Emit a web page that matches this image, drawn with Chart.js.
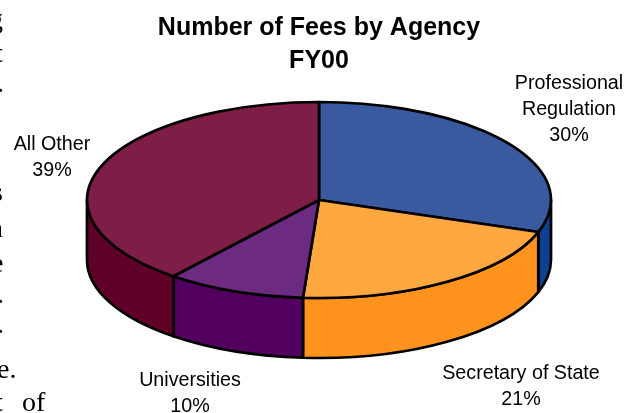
<!DOCTYPE html>
<html><head><meta charset="utf-8">
<style>html,body{margin:0;padding:0;background:#fff;overflow:hidden}canvas{display:block}</style>
<script src="https://cdn.jsdelivr.net/npm/chart.js@4"></script></head>
<body><div style="width:624px;height:413px;position:relative"><canvas id="c" width="624" height="413"></canvas></div>
<script>
const categories = [["Professional","Regulation"],["Secretary of State"],["Universities"],["All Other"]];
const values = [30.3, 20.8, 9.7, 39.2];
const topColors = ["#3A5AA0","#FFA840","#6C2A80","#7E1D46"];
const sideColors = ["#0F3F90","#FF931E","#520060","#600028"];
const titleLines = ["Number of Fees by Agency","FY00"];

const ELLIPSE_STRETCH = 232/98, DEPTH = 60, LINE = 2.7;
const labelAnchors = [{x:569,y:89},{x:521,y:379},{x:190,y:386},{x:52,y:150}];
const bodyFragments = [
  {t:"g",x:-11,y:28},{t:"t",x:-5,y:62},{t:".",x:-3,y:92},{t:"s",x:-8,y:201},{t:"n",x:-11,y:237},
  {t:"e",x:-9,y:272},{t:".",x:-3,y:303},{t:".",x:-3,y:333},{t:"e.",x:-3,y:378},{t:"t",x:-5,y:411},{t:"of",x:22,y:411}
];

const pie3d = {
  id:'pie3d',
  beforeDraw(chart){
    const ctx=chart.ctx; ctx.save();
    ctx.font='28px "Liberation Serif"'; ctx.fillStyle='#000'; ctx.textAlign='left'; ctx.textBaseline='alphabetic';
    bodyFragments.forEach(f=>ctx.fillText(f.t,f.x,f.y));
    ctx.restore();
  },
  beforeDatasetsDraw(chart){
    const ctx=chart.ctx, arcs=chart.getDatasetMeta(0).data;
    ctx.save();
    ctx.lineWidth=LINE; ctx.strokeStyle='#000'; ctx.lineJoin='round';
    arcs.forEach((arc,i)=>{
      const p=arc.getProps(['x','y','startAngle','endAngle','outerRadius'],true);
      const ry=p.outerRadius, rx=ry*ELLIPSE_STRETCH;
      const a0=Math.max(p.startAngle,0), a1=Math.min(p.endAngle,Math.PI);
      if(a1<=a0) return;
      ctx.beginPath();
      ctx.ellipse(p.x,p.y,rx,ry,0,a0,a1);
      ctx.lineTo(p.x+rx*Math.cos(a1),p.y+ry*Math.sin(a1)+DEPTH);
      ctx.ellipse(p.x,p.y+DEPTH,rx,ry,0,a1,a0,true);
      ctx.closePath();
      ctx.fillStyle=sideColors[i]; ctx.fill(); ctx.stroke();
    });
    arcs.forEach((arc,i)=>{
      const p=arc.getProps(['x','y','startAngle','endAngle','outerRadius'],true);
      const ry=p.outerRadius, rx=ry*ELLIPSE_STRETCH;
      ctx.beginPath();
      ctx.moveTo(p.x,p.y);
      ctx.ellipse(p.x,p.y,rx,ry,0,p.startAngle,p.endAngle);
      ctx.closePath();
      ctx.fillStyle=arc.options.backgroundColor; ctx.fill(); ctx.stroke();
    });
    ctx.restore();
    return false;
  },
  afterDraw(chart){
    const ctx=chart.ctx, total=values.reduce((a,b)=>a+b,0);
    ctx.save();
    ctx.font='19.7px "Liberation Sans"'; ctx.fillStyle='#000'; ctx.textAlign='center'; ctx.textBaseline='alphabetic';
    categories.forEach((lines,i)=>{
      const all=[...lines, Math.round(values[i]/total*100)+'%'], a=labelAnchors[i];
      all.forEach((s,k)=>ctx.fillText(s,a.x,a.y+k*26));
    });
    ctx.restore();
  }
};

new Chart(document.getElementById('c'),{
  type:'pie',
  data:{labels:categories,datasets:[{data:values,backgroundColor:topColors,borderWidth:0}]},
  options:{
    responsive:false,animation:false,
    layout:{padding:{left:14,right:0,top:0,bottom:115}},
    plugins:{
      legend:{display:false},tooltip:{enabled:false},
      title:{display:true,text:titleLines,color:'#000',align:'center',
        font:{family:'"Liberation Sans"',size:25,weight:'bold',lineHeight:1.32},
        padding:{top:12,bottom:24}}
    }
  },
  plugins:[pie3d]
});
</script></body></html>
